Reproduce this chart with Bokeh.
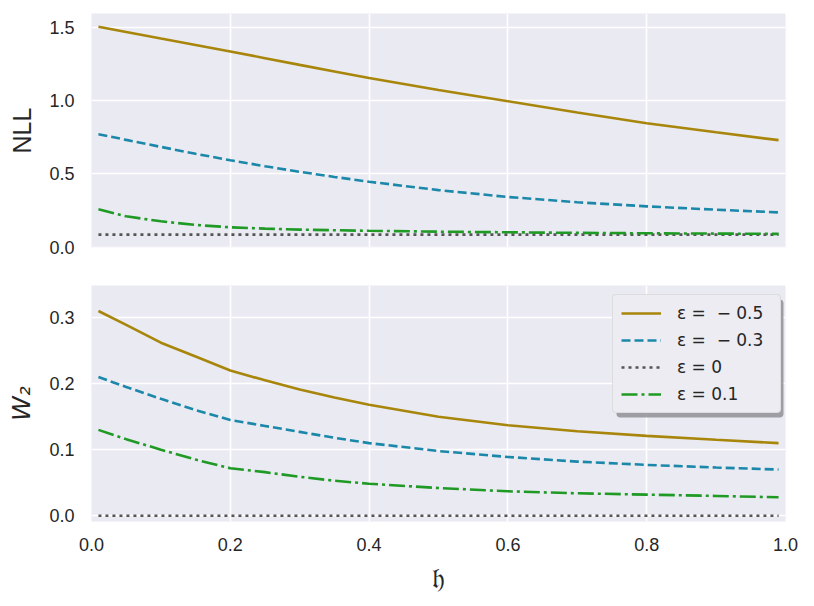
from bokeh.plotting import figure
from bokeh.layouts import column
from bokeh.models import Legend, LegendItem, FixedTicker, Range1d, PrintfTickFormatter, BoxAnnotation
from bokeh.embed import file_html
from bokeh.resources import INLINE

# ---- data ----
h = [0.01, 0.05, 0.1, 0.15, 0.2, 0.25, 0.3, 0.35, 0.4, 0.5, 0.6, 0.7, 0.8, 0.9, 0.99]

nll_m05 = [1.505, 1.470, 1.425, 1.381, 1.337, 1.291, 1.245, 1.200, 1.155, 1.073, 0.997, 0.920, 0.847, 0.785, 0.731]
nll_m03 = [0.772, 0.733, 0.685, 0.638, 0.594, 0.553, 0.515, 0.480, 0.447, 0.390, 0.343, 0.307, 0.279, 0.256, 0.238]
nll_0 = [0.086] * 15
nll_01 = [0.259, 0.211, 0.177, 0.152, 0.136, 0.127, 0.120, 0.116, 0.112, 0.106, 0.102, 0.098, 0.095, 0.093, 0.091]

w2_m05 = [0.310, 0.289, 0.262, 0.241, 0.220, 0.205, 0.191, 0.179, 0.168, 0.150, 0.137, 0.128, 0.121, 0.115, 0.110]
w2_m03 = [0.210, 0.195, 0.177, 0.160, 0.145, 0.136, 0.127, 0.118, 0.110, 0.098, 0.089, 0.082, 0.077, 0.073, 0.070]
w2_0 = [0.0] * 15
w2_01 = [0.130, 0.116, 0.100, 0.085, 0.072, 0.066, 0.059, 0.053, 0.0485, 0.042, 0.037, 0.034, 0.032, 0.030, 0.028]

labels = ["ε = \u00a0− 0.5", "ε = \u00a0− 0.3", "ε = 0", "ε = 0.1"]
x_ticks = [0.0, 0.2, 0.4, 0.6, 0.8, 1.0]
nll_ticks = [0.0, 0.5, 1.0, 1.5]
w2_ticks = [0.0, 0.1, 0.2, 0.3]

colors = ["#a8860c", "#1b88aa", "#555555", "#1f9a25"]
dashes = ["solid", "9 4", "3 4", "16 4 3 4"]

BG = "#eaeaf2"
TXT = "#262626"
TICK_FONT = "Liberation Sans"

x_range = Range1d(0, 1.0)


def style(p, yticks):
    p.background_fill_color = BG
    p.border_fill_color = "white"
    p.outline_line_color = None
    p.xgrid.ticker = FixedTicker(ticks=x_ticks)
    p.ygrid.ticker = FixedTicker(ticks=yticks)
    for g in (p.xgrid, p.ygrid):
        g.grid_line_color = "white"
        g.grid_line_width = 1.6
    p.xaxis.ticker = FixedTicker(ticks=x_ticks)
    p.yaxis.ticker = FixedTicker(ticks=yticks)
    for ax in (p.xaxis, p.yaxis):
        ax.formatter = PrintfTickFormatter(format="%.1f")
        ax.axis_line_color = None
        ax.major_tick_line_color = None
        ax.minor_tick_line_color = None
        ax.major_tick_out = 0
        ax.major_tick_in = 0
        ax.major_label_text_font = TICK_FONT
        ax.major_label_text_font_size = "18px"
        ax.major_label_text_color = TXT
        ax.axis_label_text_color = TXT
        ax.axis_label_text_font_style = "normal"
    p.yaxis.major_label_standoff = 17
    p.xaxis.major_label_standoff = 16


p1 = figure(width=805, height=262, x_range=x_range, y_range=Range1d(-0.002, 1.596),
            output_backend="svg", toolbar_location=None,
            min_border_left=91, min_border_right=20, min_border_top=13, min_border_bottom=15)
style(p1, nll_ticks)
p1.xaxis.visible = False
p1.yaxis.axis_label = "NLL"
p1.yaxis.axis_label_text_font = TICK_FONT
p1.yaxis.axis_label_text_font_size = "25px"
p1.yaxis.axis_label_standoff = 10

for ys, c, d in zip([nll_m05, nll_m03, nll_0, nll_01], colors, dashes):
    p1.line(h, ys, line_color=c, line_width=2.6, line_dash=d)

p2 = figure(width=805, height=335, x_range=x_range, y_range=Range1d(-0.0087, 0.3486),
            output_backend="svg", toolbar_location=None,
            min_border_left=91, min_border_right=20, min_border_top=23, min_border_bottom=20)
style(p2, w2_ticks)
p2.yaxis.axis_label = "W₂"
p2.yaxis.axis_label_text_font = "DejaVu Sans"
p2.yaxis.axis_label_text_font_style = "italic"
p2.yaxis.axis_label_text_font_size = "25px"
p2.yaxis.axis_label_standoff = 10
p2.xaxis.axis_label = "𝔥"
p2.xaxis.axis_label_text_font = "DejaVu Sans"
p2.xaxis.axis_label_text_font_size = "28px"
p2.xaxis.axis_label_standoff = 8

renderers = []
for ys, c, d in zip([w2_m05, w2_m03, w2_0, w2_01], colors, dashes):
    renderers.append(p2.line(h, ys, line_color=c, line_width=2.6, line_dash=d))

# legend shadow (screen units: x from frame left, y from frame bottom)
shadow = BoxAnnotation(left=525, right=692, bottom=104, top=222,
                       left_units="screen", right_units="screen",
                       top_units="screen", bottom_units="screen",
                       fill_color="#8a8a8e", fill_alpha=0.8, line_color=None,
                       border_radius=4)
p2.add_layout(shadow)

lg = Legend(items=[LegendItem(label=l, renderers=[r]) for l, r in zip(labels, renderers)],
            location=(521, 108), orientation="vertical")
lg.margin = 0
lg.padding = 8
lg.spacing = 7
lg.glyph_width = 40
lg.glyph_height = 20
lg.label_height = 20
lg.label_width = 95
lg.label_standoff = 16
lg.label_text_font = "DejaVu Sans"
lg.label_text_font_size = "17px"
lg.label_text_color = TXT
lg.border_radius = 4
lg.background_fill_color = "#ececf2"
lg.background_fill_alpha = 1.0
lg.border_line_color = "#cccccc"
lg.border_line_width = 1.2
p2.add_layout(lg, "center")

layout = column(p1, p2, spacing=0)
open("out.html", "w").write(file_html(layout, INLINE))
